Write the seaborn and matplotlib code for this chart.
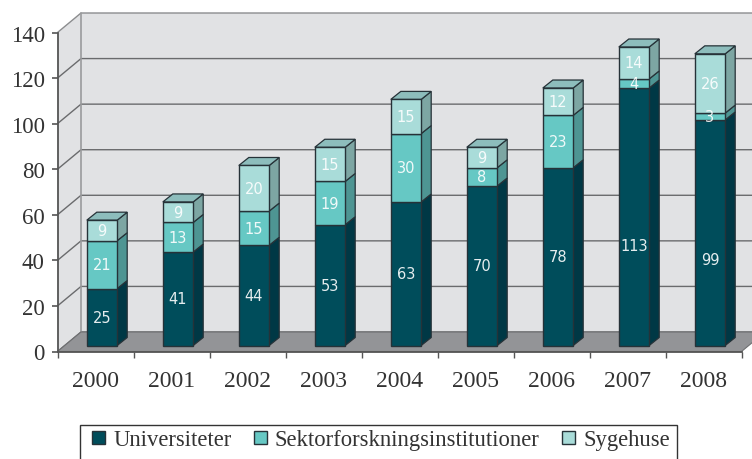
import matplotlib
matplotlib.use('Agg')
import matplotlib.pyplot as plt
from matplotlib.patches import Polygon, Rectangle
import seaborn as sns

# Dados
years = ['2000', '2001', '2002', '2003', '2004', '2005', '2006', '2007', '2008']
universiteter = [25, 41, 44, 53, 63, 70, 78, 113, 99]
sektor = [21, 13, 15, 19, 30, 8, 23, 4, 3]
sygehuse = [9, 9, 20, 15, 15, 9, 12, 14, 26]
names = ['Universiteter', 'Sektorforskningsinstitutioner', 'Sygehuse']

front_cols = ['#004d5b', '#66c8c4', '#a9dcd9']
side_cols = ['#003845', '#4e9593', '#7da6a3']
top_col = '#8dbdbc'
wall_col = '#e1e2e4'
floor_col = '#939497'
edge_col = '#263238'

sns.set_style('white')
plt.rcParams['font.family'] = ['Liberation Serif', 'DejaVu Sans']

W, H = 752, 460
fig = plt.figure(figsize=(W / 100, H / 100), dpi=100)
ax = fig.add_axes([57.5 / W, 1 - 352.5 / H, 684 / W, 319 / H])
ax.patch.set_alpha(0)

# Barras empilhadas
bottom = [0] * len(years)
for vals, col, name in zip([universiteter, sektor, sygehuse], front_cols, names):
    sns.barplot(x=years, y=vals, bottom=bottom, color=col, saturation=1, width=0.4,
                edgecolor=edge_col, linewidth=1, label=name, legend=False, ax=ax, zorder=4)
    bottom = [b + v for b, v in zip(bottom, vals)]
if ax.get_legend() is not None:
    ax.get_legend().remove()

ax.set_xlim(-0.5, 8.5)
ax.set_ylim(0, 140)
ax.set_yticks(range(0, 141, 20))

# Profundidade em unidades de dados
px_x = 1 / 76
px_y = 140 / 319
wall_dx, wall_dy = 23.5 * px_x, 19.5 * px_y
bar_dx, bar_dy = 10 * px_x, 8 * px_y
shift_x, shift_y = 6.5 * px_x, 6 * px_y

# Paredes e chao
x0, x1 = -0.5, 8.5
ax.add_patch(Polygon([(x0, 0), (x0 + wall_dx, wall_dy), (x0 + wall_dx, 140 + wall_dy), (x0, 140)],
                     fc=wall_col, ec='none', clip_on=False, zorder=0))
ax.add_patch(Polygon([(x0 + wall_dx, wall_dy), (x1 + wall_dx, wall_dy),
                      (x1 + wall_dx, 140 + wall_dy), (x0 + wall_dx, 140 + wall_dy)],
                     fc=wall_col, ec='none', clip_on=False, zorder=0))
for v in ax.get_yticks():
    c = '#8c8d8f' if v == 140 else '#6a6b6d'
    ax.plot([x0, x0 + wall_dx, x1 + wall_dx], [v, v + wall_dy, v + wall_dy],
            color=c, lw=1, clip_on=False, zorder=1, solid_joinstyle='miter')
ax.plot([x0 + wall_dx, x0 + wall_dx], [wall_dy, 140 + wall_dy], color='#9a9b9d', lw=1.2,
        clip_on=False, zorder=1)
ax.add_patch(Polygon([(x0, 0), (x1, 0), (x1 + wall_dx, wall_dy), (x0 + wall_dx, wall_dy)],
                     fc=floor_col, ec='#6f7072', lw=0.8, clip_on=False, zorder=2))

# Faces laterais e topo, rotulos
label_shift = {(0, 7): -29, (0, 8): -27}
for s, cont in enumerate(ax.containers):
    for i, p in enumerate(cont.patches):
        p.set_x(p.get_x() + shift_x)
        p.set_y(p.get_y() + shift_y)
        p.set_clip_on(False)
        xl, xr = p.get_x(), p.get_x() + p.get_width()
        yb, yt = p.get_y(), p.get_y() + p.get_height()
        ax.add_patch(Polygon([(xr, yb), (xr + bar_dx, yb + bar_dy), (xr + bar_dx, yt + bar_dy), (xr, yt)],
                             fc=side_cols[s], ec=edge_col, lw=0.9, clip_on=False, zorder=3.5))
        if s == 2:
            ax.add_patch(Polygon([(xl, yt), (xl + bar_dx, yt + bar_dy), (xr + bar_dx, yt + bar_dy), (xr, yt)],
                                 fc=top_col, ec=edge_col, lw=0.9, clip_on=False, zorder=3.5))
        ax.annotate(f'{p.get_height():.0f}', xy=((xl + xr) / 2, (yb + yt) / 2),
                    xytext=(0, label_shift.get((s, i), 0)), textcoords='offset pixels',
                    ha='center', va='center', color='white', alpha=0.9, fontsize=10.5,
                    family='DejaVu Sans', zorder=6, annotation_clip=False)

# Eixos
sns.despine(ax=ax, top=True, right=True)
for side in ['left', 'bottom']:
    ax.spines[side].set_color('#555555')
    ax.spines[side].set_linewidth(1.3)
    ax.spines[side].set_zorder(5)
ax.set_xticks([i - 0.5 for i in range(len(years) + 1)], minor=True)
ax.tick_params(axis='x', which='minor', bottom=True, length=4, width=1, color='#555555')
ax.tick_params(axis='x', which='major', bottom=False, length=0, pad=13.5, labelsize=17, labelcolor='#333333')
ax.tick_params(axis='y', left=True, length=4.3, width=1.2, color='#555555', pad=4.8,
               labelsize=16.5, labelcolor='#333333')

# Legenda com caixa aberta em baixo
fig.add_artist(Rectangle((79.5 / W, -10 / H), 597 / W, (34.3 + 10) / H, transform=fig.transFigure,
                         fc='white', ec='#333333', lw=1))
handles = [c.patches[0] for c in ax.containers]
leg = fig.legend(handles, names, loc='center left', bbox_to_anchor=(92 / W, 1 - 441 / H),
                 frameon=False, ncol=3, fontsize=16.3, handlelength=0.57, handleheight=0.57,
                 handletextpad=0.36, columnspacing=1.0, borderpad=0, borderaxespad=0,
                 labelcolor='#333333')

fig.savefig('out.png', dpi=100)
